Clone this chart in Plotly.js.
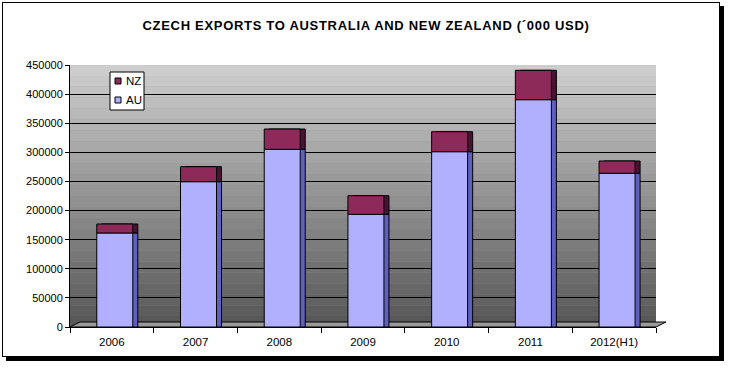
<!DOCTYPE html>
<html>
<head>
<meta charset="utf-8">
<script src="https://cdn.plot.ly/plotly-3.0.1.min.js"></script>
<style>
  html, body { margin: 0; padding: 0; background: #ffffff; }
  #wrap { position: relative; width: 732px; height: 369px; overflow: hidden; }
  #frame { position: absolute; left: 2px; top: 2px; width: 716px; height: 353px;
           border: 1px solid #000; box-shadow: 4px 4px 0 #000; background: #fff; }
  #chart { position: absolute; left: 0; top: 0; width: 732px; height: 369px; }
  .gtitle { letter-spacing: 0.7px; }
</style>
</head>
<body>
<div id="wrap">
  <div id="frame"></div>
  <div id="chart"></div>
</div>
<script>
// ---- data ('000 USD) ----
const years = ["2006", "2007", "2008", "2009", "2010", "2011", "2012(H1)"];
const auValues = [161500, 249600, 305200, 193500, 301100, 390400, 264000];
const nzValues = [15400, 25700, 34800, 32000, 34300, 50500, 21100];
const seriesNames = ["NZ", "AU"];
const yTickValues = [0, 50000, 100000, 150000, 200000, 250000, 300000, 350000, 400000, 450000];
const yTickLabels = ["0", "50000", "100000", "150000", "200000", "250000", "300000", "350000", "400000", "450000"];

const W = 732, H = 369;
const L = 70, R = 656, T = 65, B = 327;
const px = x => (x - L) / (R - L);      // pixel -> paper x
const py = y => (B - y) / (B - T);      // pixel -> paper y

const AU_COLOR = '#b0b0ff', NZ_COLOR = '#8e2a5a';

// background gradient bands (back wall)
const shapes = [];
const nBands = 24;
function mix(a, b, t) { return Math.round(a + (b - a) * t); }
for (let i = 0; i < nBands; i++) {
  const t = i / (nBands - 1);
  const v = mix(88, 205, t);
  shapes.push({
    type: 'rect', xref: 'x domain', yref: 'y domain', layer: 'below',
    x0: 0, x1: 1, y0: i / nBands, y1: (i + 1) / nBands,
    fillcolor: `rgb(${v},${v},${v})`, line: { width: 0 }
  });
}
// floor strip
shapes.push({
  type: 'path', xref: 'paper', yref: 'paper', layer: 'below',
  path: `M 0 0 L 1 0 L ${px(666)} ${py(322)} L ${px(80)} ${py(322)} Z`,
  fillcolor: '#9a9a9a', line: { color: '#000', width: 1 }
});
// custom legend box
shapes.push({ type: 'rect', xref: 'paper', yref: 'paper',
  x0: px(110), x1: px(144), y0: py(110), y1: py(72),
  fillcolor: '#fff', line: { color: '#000', width: 1 } });
shapes.push({ type: 'rect', xref: 'paper', yref: 'paper',
  x0: px(115), x1: px(121), y0: py(84), y1: py(78),
  fillcolor: NZ_COLOR, line: { color: '#000', width: 1 } });
shapes.push({ type: 'rect', xref: 'paper', yref: 'paper',
  x0: px(115), x1: px(121), y0: py(103), y1: py(97),
  fillcolor: AU_COLOR, line: { color: '#000', width: 1 } });
const annotations = [
  { xref: 'paper', yref: 'paper', x: px(124), y: py(81), xanchor: 'left', yanchor: 'middle',
    text: seriesNames[0], showarrow: false, font: { size: 11.5, color: '#000' } },
  { xref: 'paper', yref: 'paper', x: px(124), y: py(100), xanchor: 'left', yanchor: 'middle',
    text: seriesNames[1], showarrow: false, font: { size: 11.5, color: '#000' } }
];

const baseNZ = auValues.slice();

const barW = 0.43, off = -0.18, depth = 0.06;
const traces = [
  // side faces (depth)
  { type: 'bar', x: years, y: auValues, base: 0, width: barW, offset: off + depth,
    marker: { color: '#5f5fc0', line: { color: '#000', width: 1 } }, showlegend: false, hoverinfo: 'skip' },
  { type: 'bar', x: years, y: nzValues, base: baseNZ, width: barW, offset: off + depth,
    marker: { color: '#4a1232', line: { color: '#000', width: 1 } }, showlegend: false, hoverinfo: 'skip' },
  // front faces
  { type: 'bar', name: seriesNames[1], x: years, y: auValues, base: 0, width: barW, offset: off,
    marker: { color: AU_COLOR, line: { color: '#000', width: 1 } } },
  { type: 'bar', name: seriesNames[0], x: years, y: nzValues, base: baseNZ, width: barW, offset: off,
    marker: { color: NZ_COLOR, line: { color: '#000', width: 1 } } }
];

const layout = {
  width: W, height: H,
  margin: { l: L, r: W - R, t: T, b: H - B, pad: 0 },
  paper_bgcolor: 'rgba(0,0,0,0)',
  plot_bgcolor: '#909090',
  barmode: 'overlay',
  showlegend: false,
  font: { family: 'Liberation Sans, Arial, sans-serif', size: 11, color: '#000' },
  title: {
    text: '<b>CZECH EXPORTS TO AUSTRALIA AND NEW ZEALAND (´000 USD)</b>',
    x: 0.5, xref: 'container', y: 1 - 25 / H, yref: 'container', yanchor: 'middle',
    font: { family: 'Liberation Sans, Arial, sans-serif', size: 13, color: '#000' }
  },
  xaxis: {
    type: 'category', range: [-0.5, 6.5], tickson: 'boundaries',
    ticks: 'outside', ticklen: 5, tickcolor: '#000',
    showline: true, linecolor: '#000', linewidth: 1,
    showgrid: false, zeroline: false, fixedrange: true,
    ticklabelstandoff: 4,
    tickfont: { size: 11.5 }
  },
  yaxis: {
    range: [0, 450000], tickvals: yTickValues, ticktext: yTickLabels,
    ticks: 'outside', ticklen: 4, tickcolor: '#000',
    showline: true, linecolor: '#000', linewidth: 1,
    showgrid: true, gridcolor: '#000', gridwidth: 1,
    zeroline: false, fixedrange: true,
    tickfont: { size: 11 }
  },
  shapes: shapes,
  annotations: annotations
};

Plotly.newPlot('chart', traces, layout, { displayModeBar: false, staticPlot: true });
</script>
</body>
</html>
